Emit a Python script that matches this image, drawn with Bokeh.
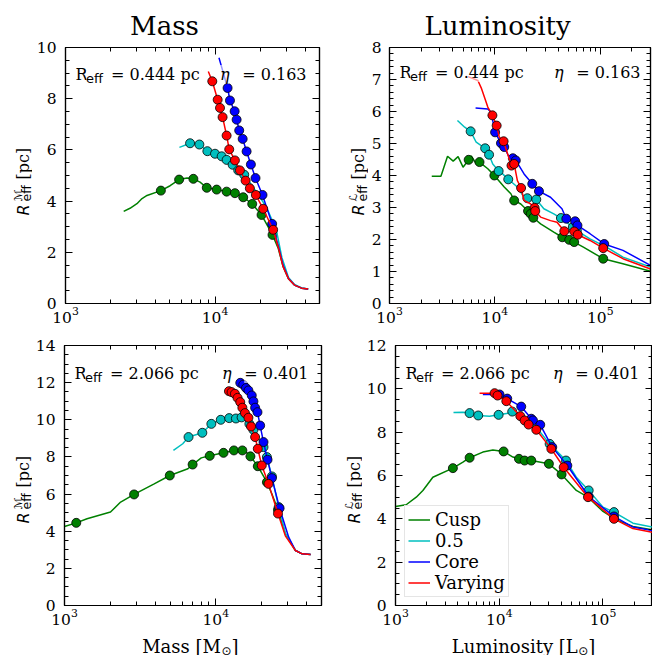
import math
import numpy as np
from bokeh.plotting import figure
from bokeh.models import (LogAxis, LinearAxis, FixedTicker, Label, Range1d,
                          Legend, LegendItem, CustomJSTickFormatter)
from bokeh.layouts import row, column
from bokeh.embed import file_html
from bokeh.resources import INLINE

# ---------------- data ----------------
# Top-left: mass, R_eff = 0.444 pc
tl_cusp_x = [2450, 2700, 3005, 3250, 3510, 4345, 5010, 5754, 6500, 7164, 7943, 8810, 10260, 11960, 13590,
             15440, 17740, 20480, 24250, 26500, 28500, 31000, 34000, 38000, 42000]
tl_cusp_y = [3.60, 3.72, 3.90, 4.10, 4.22, 4.41, 4.60, 4.84, 4.90, 4.87, 4.74, 4.52, 4.45, 4.37, 4.31,
             4.15, 3.89, 3.46, 2.68, 2.15, 1.45, 0.97, 0.72, 0.60, 0.57]
tl_cusp_mx = [4345, 5754, 7164, 8810, 10260, 11960, 13590, 15440, 17740, 20480, 24250]
tl_cusp_my = [4.41, 4.84, 4.87, 4.52, 4.45, 4.37, 4.31, 4.15, 3.89, 3.46, 2.68]

tl_half_x = [5780, 6813, 7860, 8890, 10000, 11080, 11960, 13120, 14300, 15680, 17000, 18950, 22120, 25770,
             28000, 31000, 34000, 38000, 42000]
tl_half_y = [6.10, 6.26, 6.21, 5.95, 5.85, 5.75, 5.61, 5.42, 5.20, 5.03, 4.75, 4.35, 3.76, 2.85,
             1.80, 1.02, 0.74, 0.61, 0.57]
tl_half_mx = [6813, 7860, 8890, 10000, 11080, 11960, 13120, 14300, 15680]
tl_half_my = [6.26, 6.21, 5.95, 5.85, 5.75, 5.61, 5.42, 5.20, 5.03]

tl_core_x = [10630, 11500, 12140, 12590, 13530, 13950, 14520, 15310, 16270, 17380, 18660, 20780, 24110,
             26500, 28500, 31000, 34000, 38000, 42000]
tl_core_y = [9.60, 8.90, 8.42, 7.93, 7.51, 7.18, 6.76, 6.43, 5.94, 5.43, 4.90, 4.24, 3.11,
             2.25, 1.50, 0.98, 0.72, 0.60, 0.57]
tl_core_mx = [12140, 12590, 13530, 13950, 14520, 15310, 16270, 17380, 18660, 20780, 24110]
tl_core_my = [8.42, 7.93, 7.51, 7.18, 6.76, 6.43, 5.94, 5.43, 4.90, 4.24, 3.11]

tl_vary_x = [9020, 9590, 10420, 10800, 11240, 11960, 12450, 13590, 14680, 16020, 17100, 18760, 21000, 24480,
             26500, 28500, 31000, 34000, 38000, 42000]
tl_vary_y = [9.06, 8.68, 7.96, 7.64, 7.28, 6.56, 6.02, 5.59, 5.20, 4.80, 4.50, 4.24, 3.70, 2.88,
             2.20, 1.45, 0.97, 0.72, 0.60, 0.57]
tl_vary_mx = [9590, 10420, 10800, 11240, 11960, 12450, 13590, 14680, 16020, 17100, 18760, 21000, 24480]
tl_vary_my = [8.68, 7.96, 7.64, 7.28, 6.56, 6.02, 5.59, 5.20, 4.80, 4.50, 4.24, 3.70, 2.88]

# Top-right: luminosity, R_eff = 0.444 pc
tr_cusp_x = [2517, 3076, 3556, 4020, 4477, 4989, 5640, 5970, 6650, 7150, 8570, 9890, 12270, 14190, 15240,
             17620, 20650, 21890, 23170, 27170, 36240, 43650, 50800, 56600, 69200, 106700, 164000, 300000]
tr_cusp_y = [3.98, 3.98, 4.60, 4.45, 4.59, 4.26, 4.49, 4.61, 4.36, 4.42, 4.21, 4.00, 3.64, 3.43, 3.22,
             3.11, 2.89, 2.80, 2.68, 2.49, 2.23, 2.07, 1.99, 1.92, 1.76, 1.40, 1.24, 1.01]
tr_cusp_mx = [5640, 7150, 9890, 15240, 20650, 21890, 23170, 43650, 50800, 56600, 106700]
tr_cusp_my = [4.49, 4.42, 4.00, 3.22, 2.89, 2.80, 2.68, 2.07, 1.99, 1.92, 1.40]

tr_half_x = [4415, 5170, 5890, 6650, 8090, 8810, 9550, 10860, 11850, 13400, 16370, 18930, 20330, 24720,
             29170, 36240, 42370, 54950, 59960, 79950, 114800, 164400, 300000]
tr_half_y = [5.72, 5.51, 5.38, 5.04, 4.85, 4.65, 4.36, 4.14, 4.05, 3.88, 3.64, 3.32, 3.29, 3.25,
             2.96, 2.80, 2.67, 2.39, 2.28, 2.02, 1.76, 1.45, 1.14]
tr_half_mx = [5890, 8090, 8810, 10860, 13400, 20330, 24720, 42370, 54950, 59960]
tr_half_my = [5.38, 4.85, 4.65, 4.14, 3.88, 3.29, 3.25, 2.67, 2.39, 2.28]

tr_core_x = [6560, 8570, 9200, 10050, 11430, 12270, 13680, 14820, 15810, 18930, 22640, 26200, 33730, 43330,
             47640, 57800, 60800, 80000, 109100, 164400, 300000]
tr_core_y = [6.11, 6.08, 5.98, 5.35, 5.01, 4.89, 4.57, 4.54, 4.47, 4.05, 3.74, 3.51, 3.32, 2.96,
             2.65, 2.57, 2.44, 2.18, 1.86, 1.66, 1.19]
tr_core_mx = [10050, 11430, 12270, 14820, 15810, 22640, 26200, 47640, 57800, 60800, 109100]
tr_core_my = [5.35, 5.01, 4.89, 4.54, 4.47, 3.74, 3.51, 2.65, 2.57, 2.44, 1.86]

tr_vary_x = [5560, 6900, 7420, 8570, 9480, 10400, 11010, 12100, 13190, 14380, 15240, 16360, 17740, 18930,
             21880, 23830, 24170, 27170, 33730, 38900, 45600, 56600, 61200, 80000, 106700, 164400, 300000]
tr_vary_y = [7.09, 6.97, 6.74, 6.14, 5.88, 5.56, 5.20, 5.07, 4.68, 4.31, 4.36, 3.84, 3.61, 3.22,
             3.11, 2.99, 2.89, 2.70, 2.59, 2.54, 2.26, 2.25, 2.15, 1.97, 1.73, 1.40, 1.08]
tr_vary_mx = [9480, 10400, 12100, 14380, 15240, 17740, 23830, 24170, 45600, 56600, 61200, 106700]
tr_vary_my = [5.88, 5.56, 5.07, 4.31, 4.36, 3.61, 2.99, 2.89, 2.26, 2.25, 2.15, 1.73]

# Bottom-left: mass, R_eff = 2.066 pc
bl_cusp_x = [1000, 1196, 1409, 2014, 2350, 2884, 3917, 4966, 6546, 7030, 8020, 9120, 11250, 13180, 14990,
             16440, 16950, 18960, 21780, 23500, 25780, 28840, 33620, 37240, 42360]
bl_cusp_y = [4.25, 4.45, 4.67, 5.03, 5.57, 5.98, 6.55, 7.00, 7.36, 7.59, 7.95, 8.06, 8.22, 8.35, 8.35,
             8.17, 8.03, 7.50, 6.64, 6.00, 5.15, 3.86, 2.96, 2.78, 2.75]
bl_cusp_mx = [1196, 2884, 4966, 7030, 9120, 11250, 13180, 14990, 16950, 18960, 21780, 25780]
bl_cusp_my = [4.45, 5.98, 7.00, 7.59, 8.06, 8.22, 8.35, 8.35, 8.03, 7.50, 6.64, 5.15]

bl_half_x = [5250, 6050, 6605, 8150, 9350, 10790, 12270, 13590, 14820, 16680, 17740, 20680, 21780, 23500,
             26060, 28840, 33620, 37240, 42360]
bl_half_y = [8.35, 8.71, 9.07, 9.30, 9.78, 10.00, 10.09, 10.07, 10.13, 9.78, 9.46, 8.53, 7.99, 6.95,
             5.30, 3.90, 2.98, 2.78, 2.75]
bl_half_mx = [6605, 8150, 9350, 10790, 12270, 13590, 14820, 16680, 17740, 20680, 21780, 23500, 26060]
bl_half_my = [9.07, 9.30, 9.78, 10.00, 10.09, 10.07, 10.13, 9.78, 9.46, 8.53, 7.99, 6.95, 5.30]

bl_core_x = [14520, 15200, 15850, 16440, 17300, 17740, 18200, 18870, 19650, 20680, 21990, 23500, 26420,
             30340, 33620, 37240, 42360]
bl_core_y = [11.99, 11.89, 11.71, 11.58, 11.31, 10.99, 10.65, 10.41, 9.69, 8.80, 7.85, 6.86, 5.24,
             3.68, 2.96, 2.78, 2.75]
bl_core_mx = [14520, 15200, 15850, 16440, 17300, 17740, 18200, 18870, 19650, 20680, 21990, 23500, 26420]
bl_core_my = [11.99, 11.89, 11.71, 11.58, 11.31, 10.99, 10.65, 10.41, 9.69, 8.80, 7.85, 6.86, 5.24]

bl_vary_x = [12220, 12720, 13380, 13930, 14520, 14990, 15600, 16440, 17110, 18200, 18960, 20150, 22320,
             25780, 28840, 33620, 37240, 42360]
bl_vary_y = [11.54, 11.49, 11.40, 11.18, 10.95, 10.65, 10.36, 10.11, 9.64, 9.07, 8.44, 7.54, 6.55,
             4.95, 3.75, 2.96, 2.78, 2.75]
bl_vary_mx = [12220, 12720, 13380, 13930, 14520, 14990, 15600, 16440, 17110, 18200, 18960, 20150, 22320, 25780]
bl_vary_my = [11.54, 11.49, 11.40, 11.18, 10.95, 10.65, 10.36, 10.11, 9.64, 9.07, 8.44, 7.54, 6.55, 4.95]

# Bottom-right: luminosity, R_eff = 2.066 pc
br_cusp_x = [1000, 1267, 1585, 1837, 2291, 3574, 4467, 5180, 6950, 8680, 11020, 13550, 15490, 17550, 20350,
             30100, 39900, 55300, 71700, 100000, 134500, 194600, 300000]
br_cusp_y = [4.57, 4.65, 5.00, 5.31, 5.92, 6.34, 6.62, 6.82, 7.08, 7.18, 7.11, 6.85, 6.77, 6.69, 6.69,
             6.54, 6.05, 5.31, 5.00, 4.34, 3.95, 3.65, 3.49]
br_cusp_mx = [3574, 5180, 11020, 15490, 17550, 20350, 30100, 39900]
br_cusp_my = [6.34, 6.82, 7.11, 6.77, 6.69, 6.69, 6.54, 6.05]

br_half_x = [3622, 4467, 5180, 6270, 8070, 9860, 12590, 13340, 15700, 17550, 22740, 30600, 43970, 55300,
             72800, 100000, 127600, 194500, 300000]
br_half_y = [8.91, 8.92, 8.88, 8.77, 8.74, 8.80, 8.88, 8.95, 8.85, 8.54, 8.23, 7.46, 6.69, 5.92,
             5.31, 4.54, 4.31, 3.80, 3.62]
br_half_mx = [5180, 6270, 9860, 13340, 30600, 43970, 72800, 127600]
br_half_my = [8.88, 8.77, 8.80, 8.95, 7.46, 6.69, 5.31, 4.31]

br_core_x = [6950, 8680, 10070, 11940, 16290, 20350, 21130, 24840, 32430, 45300, 72800, 127600, 194000, 300000]
br_core_y = [9.74, 9.74, 9.74, 9.55, 9.18, 8.62, 8.54, 8.34, 7.31, 6.46, 5.03, 4.11, 3.62, 3.46]
br_core_mx = [10070, 11940, 16290, 20350, 21130, 24840, 32430, 45300, 72800, 127600]
br_core_my = [9.74, 9.55, 9.18, 8.62, 8.54, 8.34, 7.31, 6.46, 5.03, 4.11]

br_vary_x = [6460, 8680, 9020, 9630, 11700, 15960, 17550, 19180, 22740, 31770, 41800, 71700, 127600, 194000, 300000]
br_vary_y = [9.80, 9.80, 9.80, 9.69, 9.43, 8.74, 8.54, 8.35, 8.11, 7.23, 6.38, 5.00, 4.00, 3.55, 3.38]
br_vary_mx = [9020, 9630, 11700, 15960, 17550, 19180, 22740, 31770, 41800, 71700, 127600]
br_vary_my = [9.80, 9.69, 9.43, 8.74, 8.54, 8.35, 8.11, 7.23, 6.38, 5.00, 4.00]

SERIES_NAMES = ["Cusp", "0.5", "Core", "Varying"]
SERIES_COLORS = ["#008000", "#00bfbf", "#0000ff", "#ff0000"]

REFF_TEXT = ["0.444", "0.444", "2.066", "2.066"]
ETA_TEXT = ["0.163", "0.163", "0.401", "0.401"]
COL_TITLES = ["Mass", "Luminosity"]
X_LABELS = ["Mass [M", "Luminosity [L"]
Y_SYMBOLS = ["ℳ", "ℒ"]

X_MAJOR = [1e3, 1e4, 1e5]
X_MINOR = [m * 10.0 ** e for e in (3, 4, 5) for m in range(2, 10)]
TL_YMAJOR = [0, 2, 4, 6, 8, 10]
TR_YMAJOR = [0, 1, 2, 3, 4, 5, 6, 7, 8]
BL_YMAJOR = [0, 2, 4, 6, 8, 10, 12, 14]
BR_YMAJOR = [0, 2, 4, 6, 8, 10, 12]

SERIF = "DejaVu Serif"
SANS = "DejaVu Sans"


def txt(p, x, y, text, size, font=SERIF, style="normal", align="left", angle=0.0, bg=False):
    lab = Label(x=x, y=y, x_units="screen", y_units="screen", text=text,
                text_font=font, text_font_size=f"{size}px", text_font_style=style,
                text_align=align, text_baseline="alphabetic", angle=angle,
                text_color="black")
    if bg:
        lab.background_fill_color = "white"
        lab.background_fill_alpha = 0.6
    p.add_layout(lab)


def strip(w, h):
    # a blank figure whose frame is exactly the strip, used to hold text
    s = figure(frame_width=w, frame_height=h, x_range=Range1d(0, w), y_range=Range1d(0, h),
               toolbar_location=None, output_backend="svg", min_border=0, title=None,
               x_axis_location=None, y_axis_location=None)
    s.outline_line_color = None
    s.grid.visible = False
    s.background_fill_color = "white"
    s.border_fill_color = "white"
    return s


def style_axis(ax, show, standoff):
    ax.major_tick_in = 7
    ax.major_tick_out = 0
    ax.minor_tick_in = 4
    ax.minor_tick_out = 0
    ax.major_tick_line_color = "black"
    ax.minor_tick_line_color = "black"
    ax.major_tick_line_width = 1
    ax.minor_tick_line_width = 1
    ax.axis_line_color = "black"
    ax.axis_line_width = 1.2
    ax.major_label_text_font = SERIF
    ax.major_label_text_color = "black"
    ax.major_label_standoff = standoff
    if show:
        ax.major_label_text_font_size = "15.5px"
    else:
        ax.major_label_text_font_size = "0px"
        ax.formatter = CustomJSTickFormatter(code="return ''")


def make_panel(w, h, mbl, mbr, mbt, mbb, xmax, ymax, ymajor, ystep, series, reff, eta, drop, ystand=9):
    fw = w - mbl - mbr
    fh = h - mbt - mbb
    p = figure(width=w, height=h, x_axis_type="log",
               x_range=Range1d(1e3, xmax), y_range=Range1d(0, ymax),
               output_backend="svg", toolbar_location=None,
               min_border_left=mbl, min_border_right=mbr,
               min_border_top=mbt, min_border_bottom=mbb)
    p.grid.visible = False
    p.outline_line_color = "black"
    p.outline_line_width = 1.2
    p.background_fill_color = "white"
    p.border_fill_color = "white"

    xt = FixedTicker(ticks=X_MAJOR, minor_ticks=X_MINOR)
    yt = FixedTicker(ticks=ymajor, minor_ticks=list(np.arange(0, ymax + 1e-9, ystep)))
    p.xaxis.ticker = xt
    p.yaxis.ticker = yt
    for ax in p.xaxis:
        style_axis(ax, True, 3)
    for ax in p.yaxis:
        style_axis(ax, True, ystand)
    top = LogAxis(ticker=xt)
    style_axis(top, False, 0)
    p.add_layout(top, "above")
    right = LinearAxis(ticker=yt)
    style_axis(right, False, 0)
    p.add_layout(right, "right")

    rends = []
    for (lx, ly, mx, my), color in zip(series, SERIES_COLORS):
        r = p.line(lx, ly, line_color=color, line_width=1.5)
        p.scatter(mx, my, size=9, fill_color=color, line_color="black", line_width=0.8)
        rends.append(r)

    ty = fh - drop
    txt(p, 10, ty, "R", 16, bg=True)
    txt(p, 20.5, ty - 4, "eff", 13, font=SANS, bg=True)
    txt(p, 45.5, ty, "= " + reff + " pc", 16, bg=True)
    txt(p, fw - 13, ty, "= " + eta, 16, align="right", bg=True)
    txt(p, fw - 90, ty, "η", 16, style="italic", align="right", bg=True)
    return p, rends


def ylabel_strip(w, h, bx, cy, sym):
    s = strip(w, h)
    ang = math.pi / 2
    s0 = cy - 33
    txt(s, bx, s0, "R", 16, font=SANS, style="italic", angle=ang)
    txt(s, bx + 3.5, s0 + 14, "eff", 12.5, font=SANS, angle=ang)
    txt(s, bx - 5, s0 + 14, sym, 11, font=SANS, angle=ang)
    txt(s, bx, s0 + 36, "[pc]", 16, angle=ang)
    return s


def xlabel_strip(w, h, cx, main, main_w):
    s = strip(w, h)
    total = main_w + 10.5 + 7
    xr = cx - total / 2 + main_w
    txt(s, xr, 9, main, 18, align="right")
    txt(s, xr + 0.5, 5, "⊙", 12, font=SANS)
    txt(s, xr + 10.5, 9, "]", 18)
    return s


def title_strip(w, h, cx, title):
    s = strip(w, h)
    txt(s, cx, 15, title, 26, align="center")
    return s


tl_series = [(tl_cusp_x, tl_cusp_y, tl_cusp_mx, tl_cusp_my), (tl_half_x, tl_half_y, tl_half_mx, tl_half_my),
             (tl_core_x, tl_core_y, tl_core_mx, tl_core_my), (tl_vary_x, tl_vary_y, tl_vary_mx, tl_vary_my)]
tr_series = [(tr_cusp_x, tr_cusp_y, tr_cusp_mx, tr_cusp_my), (tr_half_x, tr_half_y, tr_half_mx, tr_half_my),
             (tr_core_x, tr_core_y, tr_core_mx, tr_core_my), (tr_vary_x, tr_vary_y, tr_vary_mx, tr_vary_my)]
bl_series = [(bl_cusp_x, bl_cusp_y, bl_cusp_mx, bl_cusp_my), (bl_half_x, bl_half_y, bl_half_mx, bl_half_my),
             (bl_core_x, bl_core_y, bl_core_mx, bl_core_my), (bl_vary_x, bl_vary_y, bl_vary_mx, bl_vary_my)]
br_series = [(br_cusp_x, br_cusp_y, br_cusp_mx, br_cusp_my), (br_half_x, br_half_y, br_half_mx, br_half_my),
             (br_core_x, br_core_y, br_core_mx, br_core_my), (br_vary_x, br_vary_y, br_vary_mx, br_vary_my)]

# row heights: titles 40, top panels 290, bottom panels 299, x labels 26  -> 655
p1, _ = make_panel(298, 290, 33, 11, 7, 27, 5e4, 10, TL_YMAJOR, 0.5, tl_series, REFF_TEXT[0], ETA_TEXT[0], 27)
p2, _ = make_panel(284, 290, 18, 2, 7, 27, 3e5, 8, TR_YMAJOR, 0.2, tr_series, REFF_TEXT[1], ETA_TEXT[1], 25, ystand=8)
p3, _ = make_panel(298, 299, 32, 9, 15, 24, 5e4, 14, BL_YMAJOR, 0.5, bl_series, REFF_TEXT[2], ETA_TEXT[2], 28)
p4, r4 = make_panel(290, 299, 33, 0, 15, 24, 3e5, 12, BR_YMAJOR, 0.5, br_series, REFF_TEXT[3], ETA_TEXT[3], 28)

legend = Legend(items=[LegendItem(label=n, renderers=[r]) for n, r in zip(SERIES_NAMES, r4)],
                location=(9, 8))
legend.label_text_font = SERIF
legend.label_text_font_size = "18px"
legend.label_text_color = "black"
legend.glyph_width = 22
legend.glyph_height = 15
legend.label_height = 15
legend.label_standoff = 5
legend.spacing = 0
legend.padding = 3
legend.margin = 0
legend.border_line_color = "#cccccc"
legend.border_line_width = 1
legend.background_fill_color = "white"
legend.background_fill_alpha = 0.85
p4.add_layout(legend)

t1 = title_strip(330, 40, 164, COL_TITLES[0])
t2 = title_strip(322, 40, 167, COL_TITLES[1])
y1 = ylabel_strip(32, 290, 22.7, 155, Y_SYMBOLS[0])
y2 = ylabel_strip(38, 290, 28.0, 155, Y_SYMBOLS[1])
y3 = ylabel_strip(32, 299, 22.7, 154, Y_SYMBOLS[0])
y4 = ylabel_strip(32, 299, 23.7, 154, Y_SYMBOLS[1])
x1 = xlabel_strip(330, 26, 192.5, X_LABELS[0], 73.4)
x2 = xlabel_strip(322, 26, 193.5, X_LABELS[1], 125.0)

layout = column(row(t1, t2, spacing=0),
                row(y1, p1, y2, p2, spacing=0),
                row(y3, p3, y4, p4, spacing=0),
                row(x1, x2, spacing=0), spacing=0)
open("out.html", "w").write(file_html(layout, INLINE))
